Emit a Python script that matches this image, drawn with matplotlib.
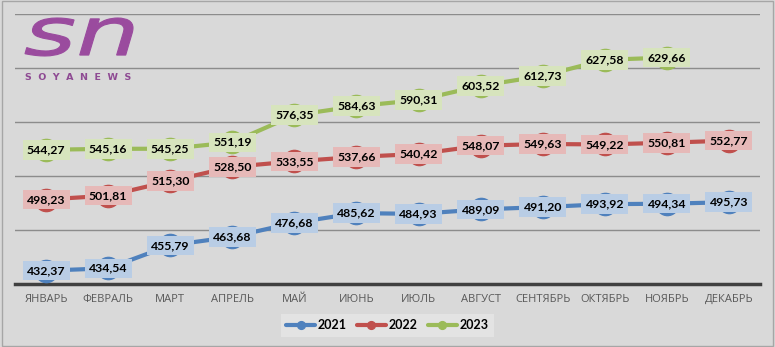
import matplotlib.pyplot as plt
from matplotlib.patches import Rectangle, PathPatch
from matplotlib.textpath import TextPath
from matplotlib.font_manager import FontProperties
from matplotlib.transforms import Affine2D, IdentityTransform

months = ["ЯНВАРЬ", "ФЕВРАЛЬ", "МАРТ", "АПРЕЛЬ", "МАЙ", "ИЮНЬ",
          "ИЮЛЬ", "АВГУСТ", "СЕНТЯБРЬ", "ОКТЯБРЬ", "НОЯБРЬ", "ДЕКАБРЬ"]
v2021 = [432.37, 434.54, 455.79, 463.68, 476.68, 485.62,
         484.93, 489.09, 491.20, 493.92, 494.34, 495.73]
v2022 = [498.23, 501.81, 515.30, 528.50, 533.55, 537.66,
         540.42, 548.07, 549.63, 549.22, 550.81, 552.77]
v2023 = [544.27, 545.16, 545.25, 551.19, 576.35, 584.63,
         590.31, 603.52, 612.73, 627.58, 629.66]

series = [
    ("2021", v2021, "#4f81bd", "#b9cde5"),
    ("2022", v2022, "#c0504d", "#e6b9b8"),
    ("2023", v2023, "#9bbb59", "#d7e4bd"),
]

BG = "#d9d9d9"
W, H = 775, 347
fig = plt.figure(figsize=(W / 100, H / 100), dpi=100, facecolor=BG)
fig.patches.append(Rectangle((0.002, 0.002), 0.995, 0.995, transform=fig.transFigure,
                             fill=False, edgecolor="#a6a6a6", lw=1))
ax = fig.add_axes([15 / W, 1 - 284 / H, 745 / W, 270 / H])
ax.set_facecolor(BG)

for name, vals, col, lab in series:
    x = list(range(len(vals)))
    ax.plot(x, vals, color=col, lw=3, marker="o", ms=16, mec=col, mfc=col,
            label=name, zorder=3, solid_capstyle="round")
    for xi, v in zip(x, vals):
        ax.text(xi, v, f"{v:.2f}".replace(".", ","), ha="center", va="center",
                fontsize=8.8, fontweight="bold", family="Lato", color="black", zorder=5,
                bbox=dict(boxstyle="square,pad=0.35", fc=lab, ec="none"))

ax.set_xlim(-0.5, 11.5)
ax.set_ylim(420, 670)
ax.set_yticks([470, 520, 570, 620, 670])
ax.yaxis.grid(True, color="#8c8c8c", lw=1)
ax.set_axisbelow(True)
ax.tick_params(axis="y", length=0, labelleft=False)
ax.set_xticks(range(12))
ax.set_xticklabels(months, color="#595959", fontsize=8, family="Open Sans")
ax.tick_params(axis="x", length=0, pad=7)
for s in ["top", "right", "left"]:
    ax.spines[s].set_visible(False)
ax.spines["bottom"].set_color("#404040")
ax.spines["bottom"].set_linewidth(2.5)

leg = fig.legend(loc="center", bbox_to_anchor=(0.5, 0.063), ncol=3, frameon=True,
                 fancybox=False, edgecolor="none", facecolor="#e3e3e3",
                 prop=dict(size=9, weight="bold", family="Lato"), handlelength=2.3,
                 columnspacing=0.8, handletextpad=0.25, borderpad=0.45, markerscale=0.35)
leg.get_frame().set_alpha(1)

# logo: "sn" stretched into its box (pixels, top-left origin)
tp = TextPath((0, 0), "sn", size=40,
              prop=FontProperties(family="DejaVu Sans", style="italic", weight="normal"))
ext = tp.get_extents()
x0, y0, x1, y1 = 25, 18, 133, 56
sx = (x1 - x0) / ext.width
sy = (y1 - y0) / ext.height
tr = Affine2D().translate(-ext.x0, -ext.y0).scale(sx, sy).translate(x0, H - y1)
fig.patches.append(PathPatch(tr.transform_path(tp), transform=IdentityTransform(),
                             fc="#9a4b9e", ec="#9a4b9e", lw=0.8))
fig.text(25 / W, 1 - 77 / H, "S  O  Y  A  N  E  W  S", fontsize=6.8, fontweight="bold",
         color="#8e4a93", va="center", ha="left")

fig.savefig("out.png", dpi=100, facecolor=BG)
